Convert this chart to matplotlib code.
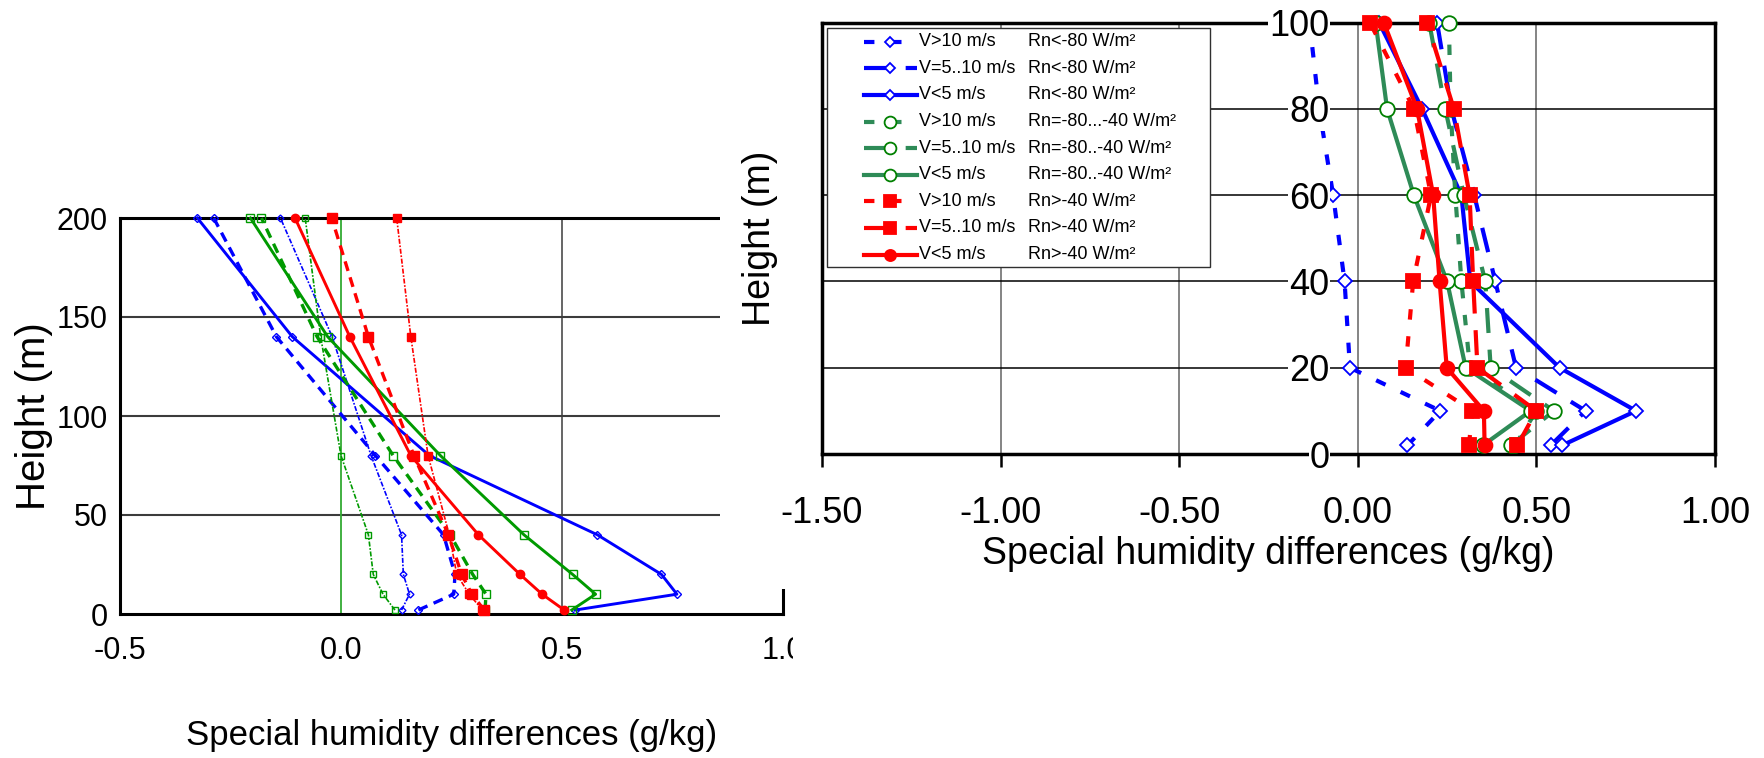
import numpy as np
import matplotlib
matplotlib.use("Agg")
from matplotlib import pyplot as plt
from matplotlib.patches import Rectangle
from matplotlib.lines import Line2D

plt.rcParams['font.family'] = ['Liberation Sans', 'DejaVu Sans']

W, H = 1765, 758

# ---- left panel: profiles up to 200 m ----
heights_left = [2, 10, 20, 40, 80, 140, 200]
left_blue_v10 = [0.137, 0.155, 0.141, 0.137, 0.068, -0.020, -0.137]
left_blue_v510 = [0.175, 0.255, 0.258, 0.232, 0.078, -0.146, -0.288]
left_blue_v5 = [0.530, 0.760, 0.725, 0.580, 0.200, -0.110, -0.325]
left_green_v10 = [0.122, 0.095, 0.073, 0.062, 0.000, -0.046, -0.081]
left_green_v510 = [0.326, 0.328, 0.298, 0.247, 0.118, -0.054, -0.180]
left_green_v5 = [0.522, 0.576, 0.524, 0.414, 0.225, -0.030, -0.205]
left_red_v10 = [0.320, 0.290, 0.262, 0.245, 0.197, 0.158, 0.126]
left_red_v510 = [0.324, 0.296, 0.273, 0.243, 0.165, 0.062, -0.021]
left_red_v5 = [0.505, 0.455, 0.405, 0.311, 0.158, 0.020, -0.104]
left_xticks = [-0.5, 0.0, 0.5, 1.0]
left_xticklabels = ["-0.5", "0.0", "0.5", "1.0"]
left_yticks = [0, 50, 100, 150, 200]

# ---- right panel: profiles up to 100 m ----
heights_right = [2, 10, 20, 40, 60, 80, 100]
right_blue_v10 = [0.139, 0.231, -0.022, -0.037, -0.069, -0.108, -0.135]
right_blue_v510 = [0.540, 0.638, 0.443, 0.385, 0.326, 0.262, 0.222]
right_blue_v5 = [0.572, 0.779, 0.565, 0.315, 0.290, 0.180, 0.060]
right_green_v10 = [0.440, 0.500, 0.314, 0.290, 0.273, 0.260, 0.255]
right_green_v510 = [0.428, 0.549, 0.372, 0.357, 0.297, 0.245, 0.200]
right_green_v5 = [0.350, 0.484, 0.302, 0.250, 0.157, 0.082, 0.050]
right_red_v10 = [0.311, 0.321, 0.134, 0.155, 0.205, 0.157, 0.034]
right_red_v510 = [0.447, 0.500, 0.335, 0.323, 0.313, 0.269, 0.194]
right_red_v5 = [0.355, 0.353, 0.249, 0.229, 0.211, 0.166, 0.073]
right_xticks = [-1.5, -1.0, -0.5, 0.0, 0.5, 1.0]
right_xticklabels = ["-1.50", "-1.00", "-0.50", "0.00", "0.50", "1.00"]
right_yticks = [0, 20, 40, 60, 80, 100]

speed_labels = ["V>10 m/s", "V=5..10 m/s", "V<5 m/s"] * 3
rn_labels = ["Rn<-80 W/m²", "Rn<-80 W/m²", "Rn<-80 W/m²",
             "Rn=-80...-40 W/m²", "Rn=-80..-40 W/m²", "Rn=-80..-40 W/m²",
             "Rn>-40 W/m²", "Rn>-40 W/m²", "Rn>-40 W/m²"]

BLUE = '#0000ff'
RED = '#ff0000'
GREEN_L = '#009a00'
GREEN_R = '#2e8b57'
GREEN_EDGE = '#008000'


def fig_box(x0, y0, x1, y1):
    # pixel box (origin top-left) -> [left, bottom, width, height] in figure fraction
    return [x0 / W, 1 - y1 / H, (x1 - x0) / W, (y1 - y0) / H]


fig = plt.figure(figsize=(W / 100, H / 100), dpi=100)

# ================= left panel =================
axl = fig.add_axes(fig_box(120, 218, 783, 614), zorder=0)
axl.set_xlim(-0.5, 1.0)
axl.set_ylim(0, 200)
axl.set_xticks(left_xticks)
axl.set_xticklabels(left_xticklabels)
axl.set_yticks(left_yticks)
axl.tick_params(length=0)
axl.tick_params(axis='x', labelsize=22, pad=16)
axl.tick_params(axis='y', labelsize=22, pad=9)
for y in left_yticks[1:-1]:
    axl.axhline(y, color='#3c3c3c', lw=1.5, zorder=1)
axl.axvline(0.5, color='#3c3c3c', lw=1.1, zorder=1)
axl.axvline(0.0, color='#33aa33', lw=1.3, zorder=1)
for s in axl.spines.values():
    s.set_linewidth(2.2)

left_styles = {
    'v10': dict(ls=(0, (3, 1, 1, 1)), lw=1.2),
    'v510': dict(ls=(0, (3, 2)), lw=2.4),
    'v5': dict(ls='-', lw=2.1),
}
left_series = [
    (left_blue_v10, BLUE, 'v10', 'D', 3.5, False),
    (left_blue_v510, BLUE, 'v510', 'D', 4, False),
    (left_blue_v5, BLUE, 'v5', 'D', 4, False),
    (left_green_v10, GREEN_L, 'v10', 's', 5, False),
    (left_green_v510, GREEN_L, 'v510', 's', 5.5, False),
    (left_green_v5, GREEN_L, 'v5', 's', 5.5, False),
    (left_red_v10, RED, 'v10', 's', 5.5, True),
    (left_red_v510, RED, 'v510', 's', 7.5, True),
    (left_red_v5, RED, 'o', 'o', 6, True),
]
for vals, col, key, mk, ms, filled in left_series:
    style = left_styles.get(key, left_styles['v5'])
    axl.plot(vals, heights_left, color=col, marker=mk, ms=ms,
             mfc=col if filled else 'none', mec=col, mew=1.0,
             zorder=3, clip_on=False, **style)

axl.set_xlabel("Special humidity differences (g/kg)", fontsize=25, labelpad=38)
axl.set_ylabel("Height (m)", fontsize=29, labelpad=2)

# the right-hand picture sits on top of the left one
fig.add_artist(Rectangle((720 / W, 1 - 589 / H), (W - 720) / W, 589 / H,
                         transform=fig.transFigure, fc='white', ec='none', zorder=1))
fig.add_artist(Rectangle((793 / W, 0), (W - 793) / W, 1,
                         transform=fig.transFigure, fc='white', ec='none', zorder=1))

# ================= right panel =================
axr = fig.add_axes(fig_box(822, 22.7, 1715, 454), zorder=2)
axr.set_xlim(-1.5, 1.0)
axr.set_ylim(0, 100)
axr.set_xticks(right_xticks)
axr.set_xticklabels(right_xticklabels)
axr.set_yticks(right_yticks)
axr.set_yticklabels([])
axr.tick_params(axis='y', length=0)
axr.tick_params(axis='x', direction='out', length=9, width=1.8, labelsize=26, pad=21)
axr.xaxis.grid(True, color='#707070', lw=1.2)
axr.yaxis.grid(True, color='black', lw=1.1)
axr.set_axisbelow(True)
for s in axr.spines.values():
    s.set_linewidth(2.5)
for y in right_yticks:
    axr.text(-0.08, y, str(y), ha='right', va='center_baseline', fontsize=26,
             bbox=dict(facecolor='white', edgecolor='none', pad=0.5),
             clip_on=False, zorder=5)

right_styles = {
    'v10': dict(ls=(0, (2.5, 4)), lw=3.0),
    'v510': dict(ls=(0, (6, 4)), lw=3.0),
    'v5': dict(ls='-', lw=3.0),
}
# (values, line colour, style, marker, size, face, edge)
right_series = [
    (right_blue_v10, BLUE, 'v10', 'D', 7, 'white', BLUE),
    (right_blue_v510, BLUE, 'v510', 'D', 7, 'white', BLUE),
    (right_blue_v5, BLUE, 'v5', 'D', 7, 'white', BLUE),
    (right_green_v10, GREEN_R, 'v10', 'o', 10.5, 'white', GREEN_EDGE),
    (right_green_v510, GREEN_R, 'v510', 'o', 10.5, 'white', GREEN_EDGE),
    (right_green_v5, GREEN_R, 'v5', 'o', 10.5, 'white', GREEN_EDGE),
    (right_red_v10, RED, 'v10', 's', 10, RED, RED),
    (right_red_v510, RED, 'v510', 's', 10.5, RED, RED),
    (right_red_v5, RED, 'v5', 'o', 10, RED, RED),
]
for vals, col, key, mk, ms, fc, ec in right_series:
    axr.plot(vals, heights_right, color=col, marker=mk, ms=ms, mfc=fc, mec=ec,
             mew=1.3, zorder=3, clip_on=False, **right_styles[key])

axr.set_xlabel("Special humidity differences (g/kg)", fontsize=27, labelpad=4)
axr.set_ylabel("Height (m)", fontsize=27, labelpad=28)

# ---- legend box drawn by hand (two text columns) ----
fig.add_artist(Rectangle((827 / W, 1 - 267 / H), (1210 - 827) / W, (267 - 28) / H,
                         transform=fig.transFigure, fc='white', ec='#303030',
                         lw=1.0, zorder=3))
leg_sizes = [5, 5, 5, 8.5, 8.5, 8.5, 8.5, 9, 8]
for i, (vals, col, key, mk, ms, fc, ec) in enumerate(right_series):
    yrow = 1 - (41.7 + i * 26.6) / H
    fig.add_artist(Line2D([864 / W, 917 / W], [yrow, yrow], transform=fig.transFigure,
                          color=col, zorder=4, **right_styles[key]))
    fig.add_artist(Line2D([890 / W], [yrow], transform=fig.transFigure, marker=mk,
                          ms=leg_sizes[i], mfc=fc, mec=ec, mew=1.3, ls='none', zorder=5))
    fig.text(919 / W, yrow, speed_labels[i], fontsize=13, va='center', zorder=6)
    fig.text(1028 / W, yrow, rn_labels[i], fontsize=13, va='center', zorder=6)

fig.savefig("out.png", dpi=100)
